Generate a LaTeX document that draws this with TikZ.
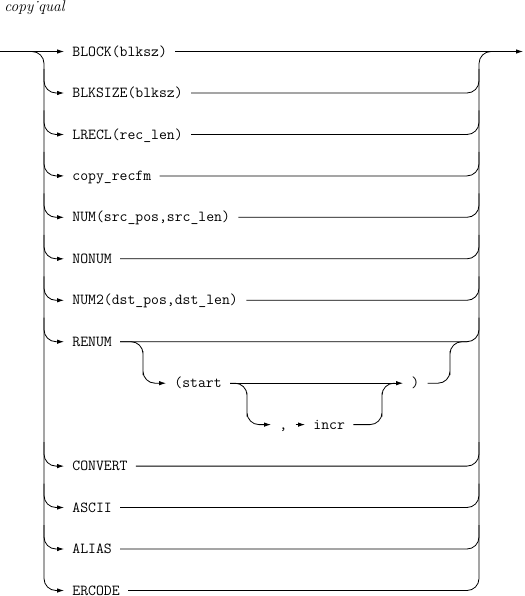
\documentclass[tikz,border=0pt]{standalone}
\usetikzlibrary{arrows.meta}
\begin{document}
\begin{tikzpicture}[x=1pt,y=1pt,line width=0.8pt,
  kw/.style={font=\fontsize{15.3}{18}\selectfont\ttfamily, inner xsep=8pt, inner ysep=0pt, text height=9.3pt, text depth=0pt, anchor=west},
  arr/.style={-{Latex[length=7pt,width=4.5pt]}},
  rc/.style={rounded corners=12pt}]
\useasboundingbox (0,0) rectangle (524,-596);
\node[font=\fontsize{15.5}{18}\selectfont\itshape, anchor=base west, inner sep=0pt] (title) at (4,-12) {copy\symbol{"02D9}qual};

\node[kw] (block) at (64,-51.5) {BLOCK(blksz)};
\node[kw] (blksize) at (64,-93) {BLKSIZE(blksz)};
\node[kw] (lrecl) at (64,-134.5) {LRECL(rec\_len)};
\node[kw] (recfm) at (64,-175.9) {copy\_recfm};
\node[kw] (num) at (64,-217.3) {NUM(src\_pos,src\_len)};
\node[kw] (nonum) at (64,-258.8) {NONUM};
\node[kw] (num2) at (64,-300.3) {NUM2(dst\_pos,dst\_len)};
\node[kw] (renum) at (64,-341.7) {RENUM};
\node[kw] (start) at (166,-383.2) {(start};
\node[kw] (rparen) at (403,-383.2) {)};
\node[kw] (comma) at (271,-424.6) {,};
\node[kw] (incr) at (305,-424.6) {incr};
\node[kw] (convert) at (64,-466.1) {CONVERT};
\node[kw] (ascii) at (64,-507.5) {ASCII};
\node[kw] (alias) at (64,-549) {ALIAS};
\node[kw] (ercode) at (64,-590.5) {ERCODE};

\coordinate (in) at (0,-51.5);
\coordinate (out) at (523,-51.5);
\coordinate (join) at (500,-51.5);

% main line and rails
\draw[arr] (in) -- (block.west);
\draw[arr] (block.east) -- (out);
\draw[rc,arr] (in) -| (44,-300) |- (ercode.west);
\draw[rc] (ercode.east) -| (479,-300) |- (join);

% branches
\foreach \n/\y in {blksize/-93,lrecl/-134.5,recfm/-175.9,num/-217.3,nonum/-258.8,num2/-300.3,renum/-341.7,convert/-466.1,ascii/-507.5,alias/-549}{
  \draw[rc,arr] (44,\y+24) |- (\n.west);
  \draw[rc] (\n.east) -| (479,\y+24);
}

% RENUM options
\draw[rc,arr] (renum.east) -| (143,-363.2) |- (start.west);
\draw[arr] (start.east) -- (rparen.west);
\draw[rc] (rparen.east) -| (450,-363.2) |- (467,-341.7);
\draw[rc,arr] (start.east) -| (247,-404.6) |- (comma.west);
\draw[arr] (comma.east) -- (incr.west);
\draw[rc] (incr.east) -| (382,-404.6) |- (395,-383.2);
\end{tikzpicture}
\end{document}
